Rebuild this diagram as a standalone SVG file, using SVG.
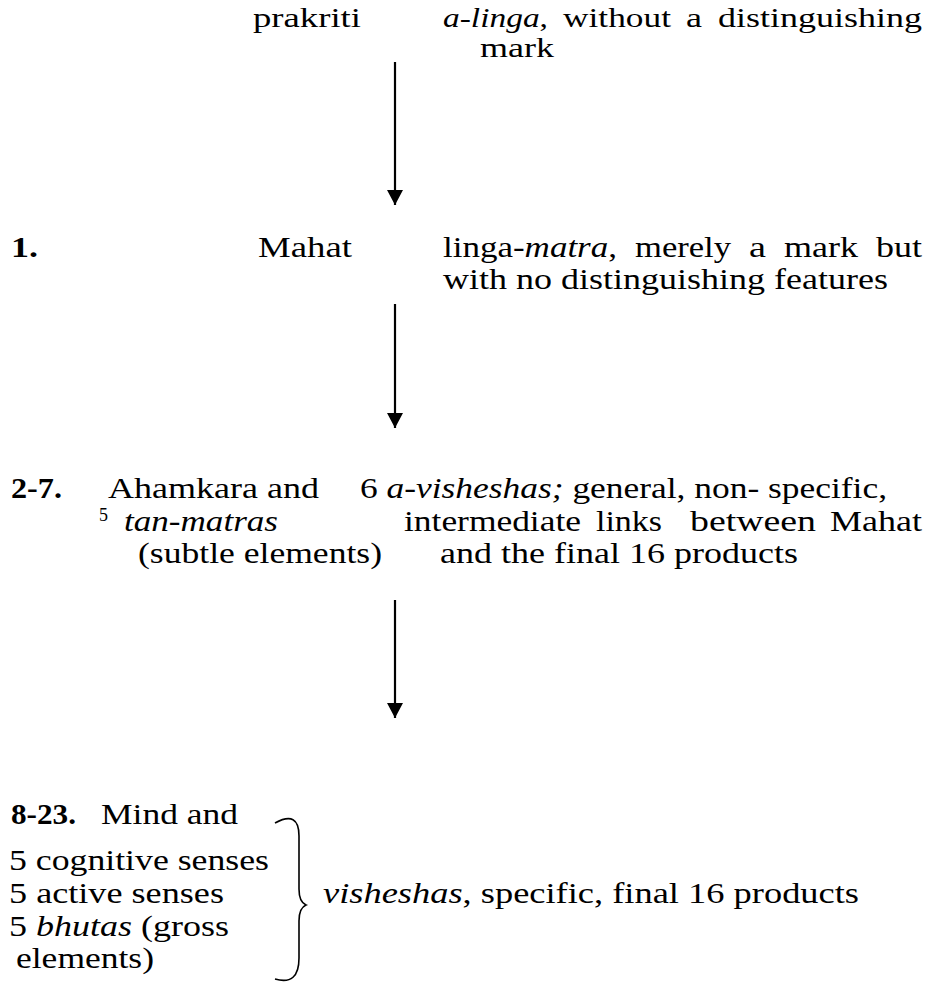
<svg xmlns="http://www.w3.org/2000/svg" width="929" height="986" viewBox="0 0 929 986">
  <style>
    text { font-family: "Liberation Serif", "Times New Roman", serif; font-size: 29px; fill: #000; }
    .top { font-size: 27px; }
    .num { font-weight: bold; }
    .it { font-style: italic; }
    .sup { font-size: 18px; }
    .conn { stroke: #000; stroke-width: 2.2; fill: none; }
    .brace { stroke: #000; stroke-width: 1.6; fill: none; }
  </style>
  <defs>
    <marker id="head" viewBox="0 0 15 16" refX="15" refY="8" markerWidth="15" markerHeight="16" markerUnits="userSpaceOnUse" orient="auto">
      <path d="M0,0 L15,8 L0,16 Z" fill="#000"/>
    </marker>
  </defs>

  <rect width="929" height="986" fill="#fff"/>

  <!-- prakriti -->
  <g id="prakriti">
    <text class="top" x="253" y="27" textLength="108" lengthAdjust="spacingAndGlyphs">prakriti</text>
    <text class="top" x="443" y="27" textLength="105" lengthAdjust="spacingAndGlyphs"><tspan class="it">a-linga</tspan>,</text>
    <text class="top" x="563" y="27" textLength="108" lengthAdjust="spacingAndGlyphs">without</text>
    <text class="top" x="686" y="27" textLength="16" lengthAdjust="spacingAndGlyphs">a</text>
    <text class="top" x="718" y="27" textLength="204" lengthAdjust="spacingAndGlyphs">distinguishing</text>
    <text class="top" x="480" y="57" textLength="74" lengthAdjust="spacingAndGlyphs">mark</text>
  </g>

  <!-- 1. Mahat -->
  <g id="mahat">
    <text class="num" x="11" y="257" textLength="27" lengthAdjust="spacingAndGlyphs">1.</text>
    <text x="258" y="257" textLength="94" lengthAdjust="spacingAndGlyphs">Mahat</text>
    <text x="443" y="257" textLength="174" lengthAdjust="spacingAndGlyphs">linga-<tspan class="it">matra</tspan>,</text>
    <text x="635" y="257" textLength="96" lengthAdjust="spacingAndGlyphs">merely</text>
    <text x="749" y="257" textLength="17" lengthAdjust="spacingAndGlyphs">a</text>
    <text x="784" y="257" textLength="74" lengthAdjust="spacingAndGlyphs">mark</text>
    <text x="876" y="257" textLength="46" lengthAdjust="spacingAndGlyphs">but</text>
    <text x="443" y="289" textLength="445" lengthAdjust="spacingAndGlyphs">with no distinguishing features</text>
  </g>

  <!-- 2-7. Ahamkara and the tan-matras -->
  <g id="ahamkara">
    <text class="num" x="11" y="498" textLength="51" lengthAdjust="spacingAndGlyphs">2-7.</text>
    <text x="108" y="498" textLength="211" lengthAdjust="spacingAndGlyphs">Ahamkara and</text>
    <text class="sup" x="99" y="521">5</text>
    <text class="it" x="124" y="531" textLength="154" lengthAdjust="spacingAndGlyphs">tan-matras</text>
    <text x="138" y="563" textLength="244" lengthAdjust="spacingAndGlyphs">(subtle elements)</text>
    <text x="360" y="498" textLength="527" lengthAdjust="spacingAndGlyphs">6 <tspan class="it">a-visheshas;</tspan> general, non- specific,</text>
    <text x="404" y="531" textLength="177" lengthAdjust="spacingAndGlyphs">intermediate</text>
    <text x="596" y="531" textLength="66" lengthAdjust="spacingAndGlyphs">links</text>
    <text x="690" y="531" textLength="126" lengthAdjust="spacingAndGlyphs">between</text>
    <text x="830" y="531" textLength="92" lengthAdjust="spacingAndGlyphs">Mahat</text>
    <text x="440" y="563" textLength="358" lengthAdjust="spacingAndGlyphs">and the final 16 products</text>
  </g>

  <!-- 8-23. Mind, senses and bhutas -->
  <g id="visheshas">
    <text class="num" x="11" y="824" textLength="65" lengthAdjust="spacingAndGlyphs">8-23.</text>
    <text x="101" y="824" textLength="137" lengthAdjust="spacingAndGlyphs">Mind and</text>
    <text x="9" y="870" textLength="260" lengthAdjust="spacingAndGlyphs">5 cognitive senses</text>
    <text x="9" y="903" textLength="215" lengthAdjust="spacingAndGlyphs">5 active senses</text>
    <text x="9" y="936" textLength="220" lengthAdjust="spacingAndGlyphs">5 <tspan class="it">bhutas</tspan> (gross</text>
    <text x="16" y="968" textLength="138" lengthAdjust="spacingAndGlyphs">elements)</text>
    <text x="323" y="903" textLength="536" lengthAdjust="spacingAndGlyphs"><tspan class="it">visheshas</tspan>, specific, final 16 products</text>
  </g>

  <!-- connectors -->
  <g id="connectors">
    <line class="conn" x1="395" y1="62" x2="395" y2="205" marker-end="url(#head)"/>
    <line class="conn" x1="395" y1="304" x2="395" y2="428" marker-end="url(#head)"/>
    <line class="conn" x1="395" y1="600" x2="395" y2="718" marker-end="url(#head)"/>
    <path class="brace" d="M275,823 Q299,810 299,836 L299,889 Q299,902 306,905 Q299,908 299,921 L299,958 Q299,986 275,979"/>
  </g>
</svg>
